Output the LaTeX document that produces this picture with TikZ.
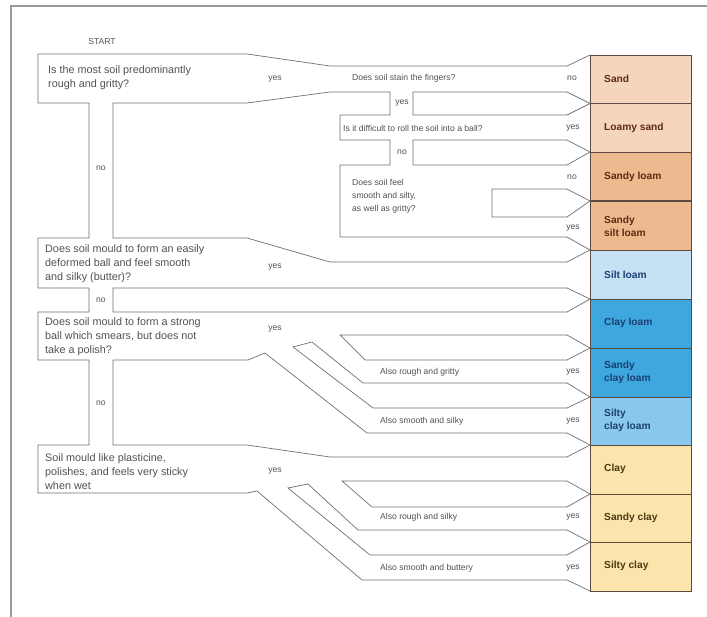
\documentclass[tikz,border=0pt]{standalone}
\usepackage{fontspec}
\setmainfont{Liberation Sans}
\definecolor{sandL}{HTML}{F5D5BB}
\definecolor{sandD}{HTML}{EDB98E}
\definecolor{siltL}{HTML}{C6E1F3}
\definecolor{clayB}{HTML}{3EA7DE}
\definecolor{clayM}{HTML}{8AC7EC}
\definecolor{clayY}{HTML}{FCE5AC}
\definecolor{brownT}{HTML}{5B2B12}
\definecolor{blueT}{HTML}{1B3F73}
\definecolor{yelT}{HTML}{4A3A12}
\definecolor{lineG}{HTML}{707070}
\definecolor{cellL}{HTML}{5A4A40}
\begin{document}
\begin{tikzpicture}[x=1pt,y=-1pt,
  edge/.style={draw=lineG, line width=0.7pt, line join=miter},
  framel/.style={draw=black!40, line width=1.2pt},
  q/.style={anchor=west, inner sep=0pt, align=left, text=black!68, font=\fontsize{8.6}{13}\selectfont},
  qbig/.style={anchor=west, inner sep=0pt, align=left, text=black!68, font=\fontsize{10.8}{14}\selectfont},
  lab/.style={anchor=center, inner sep=0pt, text=black!68, font=\fontsize{8.6}{13}\selectfont},
  cellline/.style={draw=cellL, line width=0.8pt},
  res/.style={anchor=west, inner sep=0pt, align=left, font=\fontsize{10.2}{13}\selectfont\bfseries},
]
\useasboundingbox (0,0) rectangle (707,617);
\fill[white] (0,0) rectangle (707,617);
% frame
\draw[framel] (11,617)--(11,6)--(707,6);

% result column
\fill[sandL] (590,55) rectangle (691,152);
\fill[sandD] (590,152) rectangle (691,250);
\fill[siltL] (590,250) rectangle (691,299);
\fill[clayB] (590,299) rectangle (691,397);
\fill[clayM] (590,397) rectangle (691,445);
\fill[clayY] (590,445) rectangle (691,591);
\draw[cellline] (590,55) rectangle (691,591);
\foreach \yy in {103.5,152,201,250,299,348,397,445,494,542}
  \draw[cellline] (590,\yy)--(691,\yy);
\draw[cellL, line width=1.3pt] (590,201)--(691,201);

% outlines of the channels
\draw[edge] (590,55)--(567,66)--(330,66)--(247,54)--(38,54)--(38,103)--(89,103)--(89,238)--(38,238)--(38,288)--(89,288)--(89,312)--(38,312)--(38,360)--(89,360)--(89,445)--(38,445)--(38,493)--(247,493)--(257,491)--(362,580)--(567,580)--(590,591);
\draw[edge] (590,250)--(567,262)--(330,262)--(247,238)--(113,238)--(113,103)--(247,103)--(330,92)--(390,92)--(390,115)--(340,115)--(340,140)--(390,140)--(390,165)--(340,165)--(340,237)--(567,237)--cycle;
\draw[edge] (590,103.5)--(567,92)--(413,92)--(413,115)--(567,115)--cycle;
\draw[edge] (590,152)--(567,140)--(413,140)--(413,165)--(567,165)--cycle;
\draw[edge] (590,201)--(567,189)--(492,189)--(492,217)--(567,217)--cycle;
\draw[edge] (590,299)--(567,288)--(113,288)--(113,312)--(567,312)--cycle;
\draw[edge] (590,445)--(567,433)--(367,433)--(265,353)--(248,360)--(113,360)--(113,445)--(247,445)--(330,457)--(567,457)--cycle;
\draw[edge] (340,335)--(567,335)--(590,348)--(567,360)--(365,360)--cycle;
\draw[edge] (312,342)--(363,383)--(567,383)--(590,397)--(567,408)--(373,408)--(293,347)--cycle;
\draw[edge] (342,481)--(567,481)--(590,494)--(567,507)--(372,507)--cycle;
\draw[edge] (308,484)--(358,530)--(567,530)--(590,542)--(567,555)--(370,555)--(288,488)--cycle;

% texts
\node[lab] (start) at (102,42) {START};
\node[qbig] (q1) at (48,78) {Is the most soil predominantly\\rough and gritty?};
\node[lab] (q1y) at (275,79) {yes};
\node[q] (q1a) at (352,78) {Does soil stain the fingers?};
\node[lab] (q1an) at (572,78) {no};
\node[lab] (q1ay) at (402,103) {yes};
\node[q] (q1b) at (343,128) {Is it difficult to roll the soil into a ball?};
\node[lab] (q1by) at (573,128) {yes};
\node[lab] (q1bn) at (402,152) {no};
\node[q] (q1c) at (352,196) {Does soil feel\\smooth and silty,\\as well as gritty?};
\node[lab] (q1cn) at (572,177) {no};
\node[lab] (q1cy) at (573,228) {yes};
\node[lab] (q1n) at (101,168) {no};
\node[qbig] (q2) at (45,264) {Does soil mould to form an easily\\deformed ball and feel smooth\\and silky (butter)?};
\node[lab] (q2y) at (275,267) {yes};
\node[lab] (q2n) at (101,300) {no};
\node[qbig] (q3) at (45,337) {Does soil mould to form a strong\\ball which smears, but does not\\take a polish?};
\node[lab] (q3y) at (275,329) {yes};
\node[q] (q3a) at (380,372) {Also rough and gritty};
\node[lab] (q3ay) at (573,372) {yes};
\node[q] (q3b) at (380,421) {Also smooth and silky};
\node[lab] (q3by) at (573,421) {yes};
\node[lab] (q3n) at (101,403) {no};
\node[qbig] (q4) at (45,472) {Soil mould like plasticine,\\polishes, and feels very sticky\\when wet};
\node[lab] (q4y) at (275,471) {yes};
\node[q] (q4a) at (380,517) {Also rough and silky};
\node[lab] (q4ay) at (573,517) {yes};
\node[q] (q4b) at (380,568) {Also smooth and buttery};
\node[lab] (q4by) at (573,568) {yes};

% results
\node[res, text=brownT] (r1) at (604,79) {Sand};
\node[res, text=brownT] (r2) at (604,128) {Loamy sand};
\node[res, text=brownT] (r3) at (604,177) {Sandy loam};
\node[res, text=brownT] (r4) at (604,226) {Sandy\\silt loam};
\node[res, text=blueT] (r5) at (604,275) {Silt loam};
\node[res, text=blueT] (r6) at (604,323) {Clay loam};
\node[res, text=blueT] (r7) at (604,372) {Sandy\\clay loam};
\node[res, text=blueT] (r8) at (604,420) {Silty\\clay loam};
\node[res, text=yelT] (r9) at (604,469) {Clay};
\node[res, text=yelT] (r10) at (604,518) {Sandy clay};
\node[res, text=yelT] (r11) at (604,566) {Silty clay};
\end{tikzpicture}
\end{document}
